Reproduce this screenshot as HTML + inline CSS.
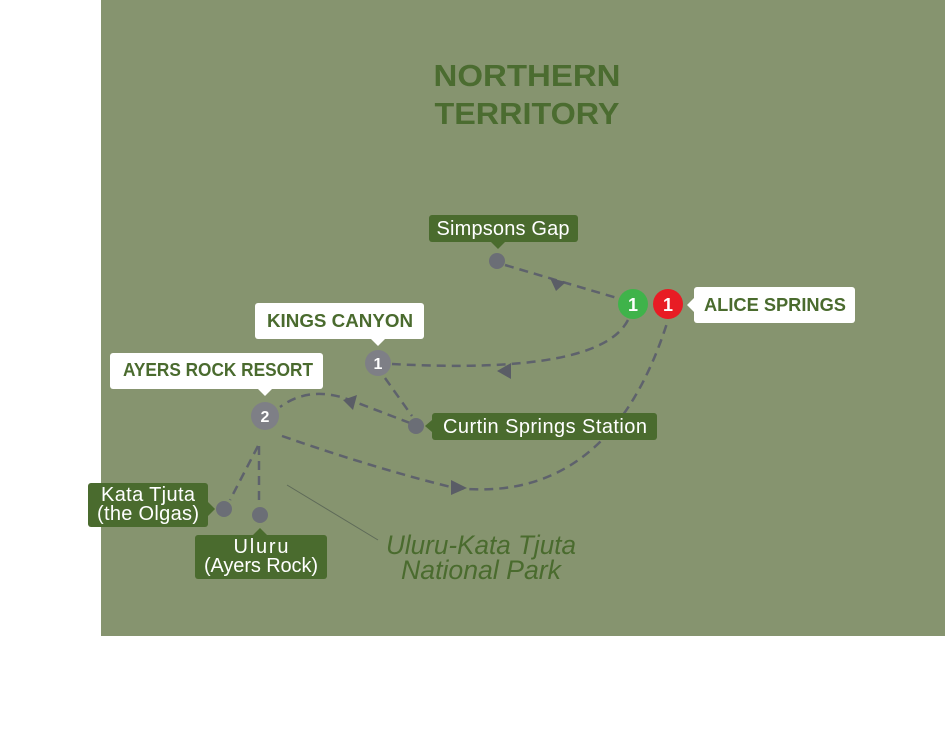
<!DOCTYPE html>
<html><head><meta charset="utf-8"><style>
html,body{margin:0;padding:0;background:#fff;}
svg{display:block;}
text{font-family:"Liberation Sans","DejaVu Sans",sans-serif;}
</style></head><body>
<svg width="945" height="750" viewBox="0 0 945 750" xmlns="http://www.w3.org/2000/svg">
<rect x="0" y="0" width="945" height="750" fill="#fff"/>
<rect x="101" y="0" width="844" height="636" fill="#86946f"/>

<text x="527" y="86" text-anchor="middle" font-size="31" font-weight="bold" fill="#4b6c30" textLength="187" lengthAdjust="spacingAndGlyphs">NORTHERN</text>
<text x="527" y="124" text-anchor="middle" font-size="31" font-weight="bold" fill="#4b6c30" textLength="185" lengthAdjust="spacingAndGlyphs">TERRITORY</text>

<g fill="none" stroke="#5e626c" stroke-width="2.5" stroke-dasharray="9,6">
<path d="M505 265 L617 298"/>
<path d="M628 320 Q600 375 392 364"/>
<path d="M385 378 L412 416"/>
<path d="M410 423 L350 400 Q310 385 280 407"/>
<path d="M282 436 Q380 470 455 488 Q610 505 668 320"/>
<path d="M258 446 L230 500"/>
<path d="M259 446 L259 505"/>
</g>
<g fill="#5a5d66">
<polygon points="550,278 566,282 556,291"/>
<polygon points="497,371 511,363 511,379"/>
<polygon points="343,400 357,395 353,410"/>
<polygon points="467,488 451,480 451,495"/>
</g>
<line x1="287" y1="485" x2="378" y2="540" stroke="#5e6a58" stroke-width="1"/>

<circle cx="497" cy="261" r="8" fill="#6b6e76"/>
<circle cx="416" cy="426" r="8" fill="#6b6e76"/>
<circle cx="224" cy="509" r="8" fill="#6b6e76"/>
<circle cx="260" cy="515" r="8" fill="#6b6e76"/>

<circle cx="378" cy="363" r="13" fill="#7e7f86"/>
<text x="378" y="369" text-anchor="middle" font-size="16" font-weight="bold" fill="#fff">1</text>
<circle cx="265" cy="416" r="14" fill="#7e7f86"/>
<text x="265" y="422" text-anchor="middle" font-size="16" font-weight="bold" fill="#fff">2</text>
<circle cx="633" cy="304" r="15" fill="#3fb34a"/>
<text x="633" y="311" text-anchor="middle" font-size="18" font-weight="bold" fill="#fff">1</text>
<circle cx="668" cy="304" r="15" fill="#e81c24"/>
<text x="668" y="311" text-anchor="middle" font-size="18" font-weight="bold" fill="#fff">1</text>

<rect x="694" y="287" width="161" height="36" rx="3" fill="#fff"/>
<polygon points="694,298 687,305 694,312" fill="#fff"/>
<text x="775" y="311" text-anchor="middle" font-size="18" font-weight="bold" fill="#4a6b2e" textLength="142" lengthAdjust="spacingAndGlyphs">ALICE SPRINGS</text>

<rect x="255" y="303" width="169" height="36" rx="3" fill="#fff"/>
<polygon points="371,339 378,346 385,339" fill="#fff"/>
<text x="340" y="327" text-anchor="middle" font-size="18" font-weight="bold" fill="#4a6b2e" textLength="146" lengthAdjust="spacingAndGlyphs">KINGS CANYON</text>

<rect x="110" y="353" width="213" height="36" rx="3" fill="#fff"/>
<polygon points="258,389 265,396 272,389" fill="#fff"/>
<text x="218" y="376" text-anchor="middle" font-size="18" font-weight="bold" fill="#4a6b2e" textLength="190" lengthAdjust="spacingAndGlyphs">AYERS ROCK RESORT</text>

<g fill="#4a6b2e">
<rect x="429" y="215" width="149" height="27" rx="3"/>
<polygon points="491,242 498,249 505,242"/>
<rect x="432" y="413" width="225" height="27" rx="3"/>
<polygon points="432,420 425,426 432,432"/>
<rect x="88" y="483" width="120" height="44" rx="3"/>
<polygon points="208,502 215,509 208,516"/>
<rect x="195" y="535" width="132" height="44" rx="3"/>
<polygon points="253,535 260,528 267,535"/>
</g>
<g fill="#fff" font-size="20" text-anchor="middle" lengthAdjust="spacingAndGlyphs">
<text x="503" y="235" textLength="133">Simpsons Gap</text>
<text x="545" y="433" textLength="204">Curtin Springs Station</text>
<text x="148" y="501" textLength="94">Kata Tjuta</text>
<text x="148" y="520" textLength="102">(the Olgas)</text>
<text x="261" y="553" textLength="55">Uluru</text>
<text x="261" y="572" textLength="114">(Ayers Rock)</text>
</g>
<g fill="#4a6b2e" font-size="27" font-style="italic" text-anchor="middle">
<text x="481" y="554" textLength="190" lengthAdjust="spacingAndGlyphs">Uluru-Kata Tjuta</text>
<text x="481" y="579" textLength="160" lengthAdjust="spacingAndGlyphs">National Park</text>
</g>
</svg>
</body></html>
